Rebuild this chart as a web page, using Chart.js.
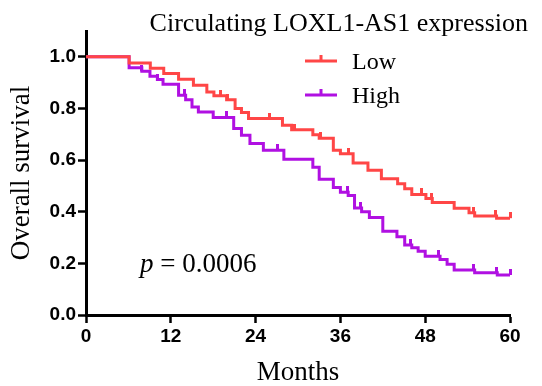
<!DOCTYPE html>
<html>
<head>
<meta charset="utf-8">
<script src="https://cdn.jsdelivr.net/npm/chart.js@4.4.1/dist/chart.umd.min.js"></script>
<style>
  html, body { margin: 0; padding: 0; background: #fff; }
</style>
</head>
<body>
<canvas id="myChart" width="542" height="386"></canvas>
<script>
// kaplan-meier steps (month where the step happens, survival after it)
const lowMonths = [0, 6.1, 9.1, 11.0, 13.1, 15.2, 17.1, 18.1, 19.9, 21.1, 22.0, 23.0, 27.8, 29.1, 32.1, 33.0, 35.0, 36.0, 37.8, 39.9, 41.8, 44.1, 45.1, 46.1, 48.1, 49.0, 52.1, 54.2, 55.0, 58.1, 60];
const lowSurv = [1.0, 0.976, 0.956, 0.935, 0.913, 0.890, 0.864, 0.849, 0.834, 0.800, 0.784, 0.761, 0.735, 0.718, 0.698, 0.685, 0.638, 0.625, 0.589, 0.561, 0.528, 0.508, 0.489, 0.467, 0.451, 0.436, 0.413, 0.396, 0.383, 0.375, 0.375];
const highMonths = [0, 6.1, 7.9, 9.05, 10.1, 10.9, 13.1, 14.1, 15.0, 15.9, 18.0, 20.9, 22.0, 23.2, 25.1, 28.0, 32.1, 33.0, 35.0, 36.0, 37.1, 38.0, 39.0, 40.1, 42.0, 44.0, 45.1, 46.1, 47.0, 48.0, 50.1, 51.1, 52.1, 55.0, 58.2, 60];
const highSurv = [1.0, 0.958, 0.944, 0.925, 0.912, 0.894, 0.851, 0.834, 0.806, 0.786, 0.765, 0.722, 0.696, 0.664, 0.638, 0.603, 0.572, 0.526, 0.494, 0.475, 0.463, 0.414, 0.400, 0.378, 0.324, 0.303, 0.271, 0.260, 0.247, 0.228, 0.215, 0.197, 0.174, 0.164, 0.155, 0.155];

// censored patients (months)
const lowCensor = [19.0, 20.0, 26.0, 29.5, 33.2, 37.1, 47.5, 48.9, 54.9, 58.0, 60];
const highCensor = [7.9, 10.1, 14.0, 19.9, 27.1, 37.0, 38.9, 45.9, 49.9, 54.9, 58.1, 60];

const xTicks = [0, 12, 24, 36, 48, 60];
const groupNames = ['Low', 'High'];
const chartTitle = 'Circulating LOXL1-AS1 expression';
const pText = '0.0006';

const lowColor = '#ff4646';
const highColor = '#b010e2';
const serif = '"Liberation Serif", "Times New Roman", serif';

// survival value at time t from the step arrays
function survAt(months, surv, t) {
    let s = surv[0];
    for (let i = 0; i < months.length; i++) {
        if (months[i] <= t) s = surv[i];
    }
    return s;
}

function toPoints(xs, ys) {
    return xs.map((x, i) => ({ x: x, y: ys[i] }));
}

function censorPoints(times, months, surv) {
    return times.map(t => ({ x: t, y: survAt(months, surv, t) }));
}

// small upward tick used for censor marks
function tickMark(color) {
    const c = document.createElement('canvas');
    c.width = 3;
    c.height = 12;
    const g = c.getContext('2d');
    g.fillStyle = color;
    g.fillRect(0, 0, 3, 6);
    return c;
}

// title, legend and p value drawn on top
const extras = {
    id: 'extras',
    afterDraw(chart) {
        const ctx = chart.ctx;
        ctx.save();
        ctx.fillStyle = '#000';
        ctx.font = '26px ' + serif;
        ctx.textAlign = 'right';
        ctx.textBaseline = 'alphabetic';
        ctx.fillText(chartTitle, 528, 31);

        // legend
        const rows = [[lowColor, 61], [highColor, 95]];
        ctx.textAlign = 'left';
        ctx.font = '24px ' + serif;
        rows.forEach((r, i) => {
            ctx.strokeStyle = r[0];
            ctx.lineWidth = 3;
            ctx.beginPath();
            ctx.moveTo(305, r[1]);
            ctx.lineTo(337, r[1]);
            ctx.moveTo(321, r[1]);
            ctx.lineTo(321, r[1] - 6);
            ctx.stroke();
            ctx.fillStyle = '#000';
            ctx.fillText(groupNames[i], 352, r[1] + 8);
        });

        // p value
        ctx.font = 'italic 27px ' + serif;
        ctx.fillText('p', 140, 272);
        const pw = ctx.measureText('p').width;
        ctx.font = '27px ' + serif;
        ctx.fillText(' = ' + pText, 140 + pw, 272);
        ctx.restore();
    }
};

const ctx = document.getElementById('myChart').getContext('2d');
new Chart(ctx, {
    type: 'line',
    data: {
        datasets: [{
            label: groupNames[0],
            data: toPoints(lowMonths, lowSurv),
            borderColor: lowColor,
            borderWidth: 3,
            stepped: true,
            pointRadius: 0,
            fill: false
        }, {
            label: groupNames[1],
            data: toPoints(highMonths, highSurv),
            borderColor: highColor,
            borderWidth: 3,
            stepped: true,
            pointRadius: 0,
            fill: false
        }, {
            label: 'low censored',
            data: censorPoints(lowCensor, lowMonths, lowSurv),
            showLine: false,
            pointStyle: tickMark(lowColor),
            pointRadius: 3,
            clip: false
        }, {
            label: 'high censored',
            data: censorPoints(highCensor, highMonths, highSurv),
            showLine: false,
            pointStyle: tickMark(highColor),
            pointRadius: 3,
            clip: false
        }]
    },
    options: {
        responsive: false,
        animation: false,
        layout: { padding: { top: 31, right: 32, left: 0, bottom: 0 } },
        plugins: {
            legend: { display: false },
            tooltip: { enabled: false }
        },
        scales: {
            x: {
                type: 'linear',
                min: 0,
                max: 60,
                afterFit(scale) { scale.height = 71; },
                afterBuildTicks(scale) { scale.ticks = xTicks.map(v => ({ value: v })); },
                grid: { drawOnChartArea: false, tickLength: 8, tickWidth: 2.5, tickColor: '#000' },
                border: { color: '#000', width: 3 },
                ticks: {
                    color: '#000',
                    padding: 2,
                    maxRotation: 0,
                    font: { family: '"Liberation Sans", Arial, sans-serif', size: 19, weight: 'bold' }
                },
                title: {
                    display: true,
                    text: 'Months',
                    color: '#000',
                    padding: 0,
                    font: { family: serif, size: 27, lineHeight: 1 }
                }
            },
            y: {
                min: 0,
                max: 1.1,
                afterFit(scale) { scale.width = 86; },
                afterBuildTicks(scale) { scale.ticks = scale.ticks.filter(t => t.value <= 1.0001); },
                grid: { drawOnChartArea: false, tickLength: 8, tickWidth: 2.5, tickColor: '#000' },
                border: { color: '#000', width: 3 },
                ticks: {
                    color: '#000',
                    padding: 2,
                    stepSize: 0.2,
                    callback: v => v.toFixed(1),
                    font: { family: '"Liberation Sans", Arial, sans-serif', size: 19, weight: 'bold' }
                },
                title: {
                    display: true,
                    text: 'Overall survival',
                    color: '#000',
                    padding: { top: 8 },
                    font: { family: serif, size: 27, lineHeight: 1 }
                }
            }
        }
    },
    plugins: [extras]
});
</script>
</body>
</html>
